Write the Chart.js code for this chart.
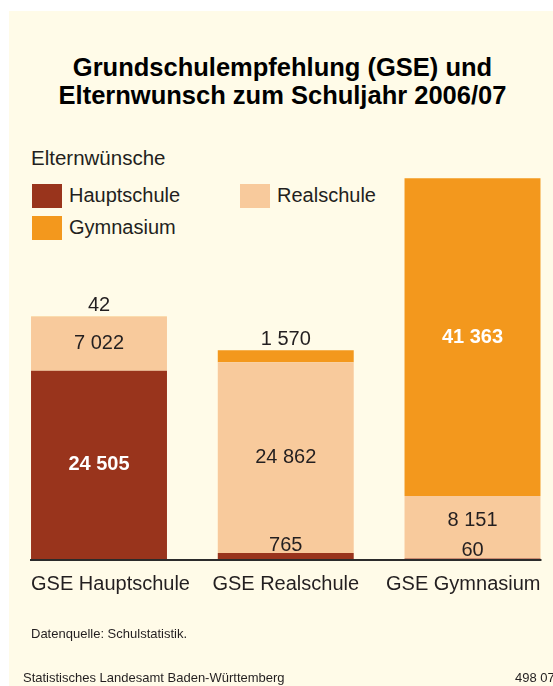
<!DOCTYPE html>
<html lang="de">
<head>
<meta charset="utf-8">
<title>Grundschulempfehlung und Elternwunsch 2006/07</title>
<script src="https://cdn.jsdelivr.net/npm/chart.js@4/dist/chart.umd.min.js"></script>
<style>
  body {
    margin: 0;
    width: 553px;
    height: 686px;
    overflow: hidden;
    position: relative;
    background: #fff;
    font-family: "Liberation Sans", Arial, sans-serif;
    color: #231f20;
  }
  #panel { position: absolute; left: 9px; top: 11px; width: 544px; height: 675px; background: #fffbe8; }
  #chart { position: absolute; left: 0; top: 0; }
  h1 {
    position: absolute; left: 0; top: 53px; width: 565px; margin: 0;
    text-align: center; font-size: 25.5px; line-height: 28px; font-weight: bold; color: #000;
  }
  #legendTitle { position: absolute; left: 31px; top: 146px; font-size: 20.5px; line-height: 24px; }
  .item { position: absolute; font-size: 20px; line-height: 23px; white-space: nowrap; }
  .item i { display: inline-block; width: 30px; height: 24px; vertical-align: top; margin-right: 7px; }
  .note { position: absolute; font-size: 13px; line-height: 15px; white-space: nowrap; }
</style>
</head>
<body>
<div id="panel"></div>
<h1>Grundschulempfehlung (GSE) und<br>Elternwunsch zum Schuljahr 2006/07</h1>
<div id="legendTitle">Elternwünsche</div>
<div id="legend"></div>
<canvas id="chart" width="553" height="686"></canvas>
<div class="note" style="left:31px; top:626px;">Datenquelle: Schulstatistik.</div>
<div class="note" style="left:23px; top:670px;">Statistisches Landesamt Baden-Württemberg</div>
<div class="note" style="left:515px; top:670px;">498 07</div>

<script>
// Grundschulempfehlung (x) und Elternwunsch (Stapel)
const categories = ['GSE Hauptschule', 'GSE Realschule', 'GSE Gymnasium'];
const wishLabels = ['Hauptschule', 'Realschule', 'Gymnasium'];
const hauptschule = [24505, 765, 60];
const realschule = [7022, 24862, 8151];
const gymnasium = [42, 1570, 41363];

const colors = ['#99341c', '#f8ca9c', '#f3981d'];
const insideText = [
  { color: '#fff', weight: 'bold' },
  { color: '#231f20', weight: 'normal' },
  { color: '#fff', weight: 'bold' }
];

function fmt(v) {
  return String(v).replace(/\B(?=(\d{3})+(?!\d))/g, ' ');
}

// HTML-Legende
const legendPos = [[32, 184], [240, 184], [32, 216]];
const legendEl = document.getElementById('legend');
wishLabels.forEach((name, i) => {
  const d = document.createElement('div');
  d.className = 'item';
  d.style.left = legendPos[i][0] + 'px';
  d.style.top = legendPos[i][1] + 'px';
  d.innerHTML = '<i style="background:' + colors[i] + '"></i>' + name;
  legendEl.appendChild(d);
});

const FONT = '"Liberation Sans", Arial, sans-serif';

const baseline = {
  id: 'baseline',
  afterDatasetsDraw(chart) {
    const bars = chart.getDatasetMeta(0).data;
    const first = bars[0], last = bars[bars.length - 1];
    const y = chart.scales.y.getPixelForValue(0) + 1;
    const c = chart.ctx;
    c.save();
    c.strokeStyle = '#2b2b2b';
    c.lineWidth = 2;
    c.beginPath();
    c.moveTo(first.x - first.width / 2 - 1, y);
    c.lineTo(last.x + last.width / 2 + 1, y);
    c.stroke();
    c.restore();
  }
};

const valueLabels = {
  id: 'valueLabels',
  afterDatasetsDraw(chart) {
    const c = chart.ctx;
    const n = chart.data.datasets.length;
    c.save();
    c.textAlign = 'center';
    c.textBaseline = 'middle';
    chart.data.labels.forEach((_, i) => {
      let smallBottomY = null;
      for (let d = 0; d < n; d++) {
        const el = chart.getDatasetMeta(d).data[i];
        const val = chart.data.datasets[d].data[i];
        const h = el.base - el.y;
        let y, style = insideText[d];
        if (h < 30) {
          style = { color: '#231f20', weight: 'normal' };
          if (d === n - 1) {
            y = el.y - 11;
          } else {
            y = el.y - 8;
            smallBottomY = y;
          }
        } else {
          y = (el.y + el.base) / 2;
          if (smallBottomY !== null && smallBottomY - y < 24) {
            y = smallBottomY - 30;
          }
        }
        c.fillStyle = style.color;
        c.font = style.weight + ' 20px ' + FONT;
        c.fillText(fmt(val), el.x, y);
      }
    });
    c.restore();
  }
};

const categoryLabels = {
  id: 'categoryLabels',
  afterDraw(chart) {
    const c = chart.ctx;
    const bars = chart.getDatasetMeta(0).data;
    const y = chart.scales.y.getPixelForValue(0) + 25;
    c.save();
    c.fillStyle = '#231f20';
    c.font = '20px ' + FONT;
    c.textBaseline = 'middle';
    chart.data.labels.forEach((lab, i) => {
      const b = bars[i];
      if (i === 0) {
        c.textAlign = 'left';
        c.fillText(lab, b.x - b.width / 2, y);
      } else if (i === bars.length - 1) {
        c.textAlign = 'right';
        c.fillText(lab, b.x + b.width / 2, y);
      } else {
        c.textAlign = 'center';
        c.fillText(lab, b.x, y);
      }
    });
    c.restore();
  }
};

new Chart(document.getElementById('chart'), {
  type: 'bar',
  data: {
    labels: categories,
    datasets: [
      { label: wishLabels[0], data: hauptschule, backgroundColor: colors[0] },
      { label: wishLabels[1], data: realschule, backgroundColor: colors[1] },
      { label: wishLabels[2], data: gymnasium, backgroundColor: colors[2] }
    ]
  },
  options: {
    responsive: false,
    animation: false,
    layout: { padding: { left: 99, right: 80.5, top: 175, bottom: 127 } },
    datasets: { bar: { categoryPercentage: 1, barPercentage: 0.728, borderWidth: 0, clip: false } },
    plugins: { legend: { display: false }, tooltip: { enabled: false } },
    scales: {
      x: { stacked: true, offset: false, display: false },
      y: { stacked: true, min: 0, max: 50000, display: false }
    }
  },
  plugins: [baseline, valueLabels, categoryLabels]
});
</script>
</body>
</html>
